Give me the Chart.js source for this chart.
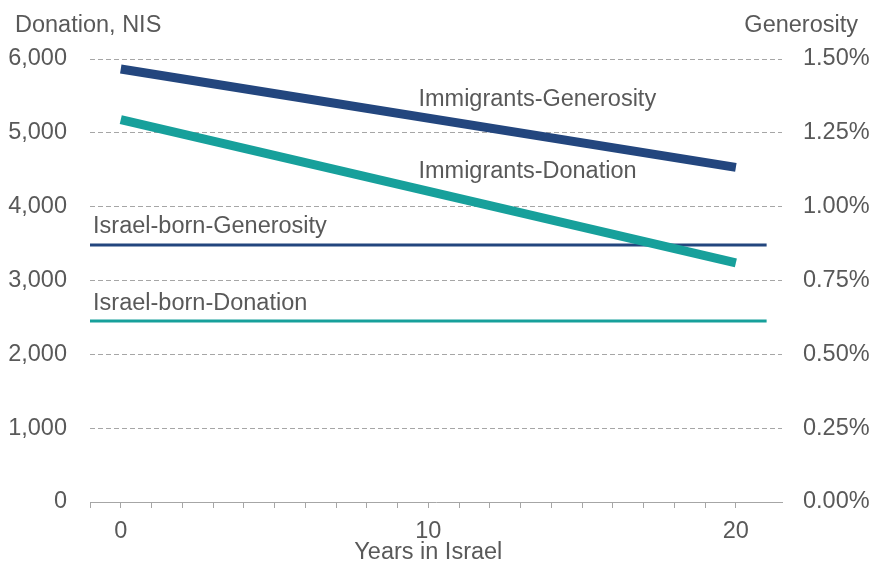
<!DOCTYPE html>
<html>
<head>
<meta charset="utf-8">
<title>Donation and generosity by years in Israel</title>
<script src="https://cdn.jsdelivr.net/npm/chart.js@4.4.1/dist/chart.umd.min.js"></script>
<style>
    body { margin: 0; background: #ffffff; }
    #chart-wrap { width: 872px; height: 561px; }
</style>
</head>
<body>
<div id="chart-wrap">
    <canvas id="line-chart-years" width="872" height="561"></canvas>
</div>
<script>

// years since arrival (immigrants) and the full span for the Israel-born reference lines
var immigrantYears = [0, 20];
var israelBornYears = [-1, 21];

// donation in NIS (left axis)
var immigrantDonation = [5180, 3240];
var israelBornDonation = [2450, 2450];

// generosity in percent (right axis)
var immigrantGenerosity = [1.466, 1.133];
var israelBornGenerosity = [0.87, 0.87];

var seriesNames = ['Immigrants-Generosity', 'Immigrants-Donation', 'Israel-born-Generosity', 'Israel-born-Donation'];

var donationTicks = [0, 1000, 2000, 3000, 4000, 5000, 6000];
var generosityTicks = [0, 0.25, 0.5, 0.75, 1, 1.25, 1.5];
var yearLabels = [0, 10, 20];

var navy = '#23467e';
var teal = '#17a09b';
var textGrey = '#595959';
var lineGrey = '#a6a6a6';
var fontFamily = "'Liberation Sans', Arial, sans-serif";
var fontSize = 23.5;

document.addEventListener('DOMContentLoaded', function () {
    LineChartYears();
});

function toPoints(xs, ys) {
    var pts = [];
    for (var i = 0; i < xs.length; i++) {
        pts.push({ x: xs[i], y: ys[i] });
    }
    return pts;
}

// series names written next to the lines, anchored in data units (x = years, y = NIS)
var seriesLabelPlugin = {
    id: 'seriesLabels',
    afterDatasetsDraw: function (chart, args, opts) {
        var ctx = chart.ctx;
        var xs = chart.scales.x;
        var ys = chart.scales.y;
        ctx.save();
        ctx.font = fontSize + 'px ' + fontFamily;
        ctx.fillStyle = textGrey;
        ctx.textBaseline = 'alphabetic';
        ctx.textAlign = 'left';
        for (var i = 0; i < opts.items.length; i++) {
            var it = opts.items[i];
            ctx.fillText(it.text, xs.getPixelForValue(it.x), ys.getPixelForValue(it.y));
        }

        // axis titles
        ctx.fillText('Donation, NIS', 15, 32);
        ctx.textAlign = 'right';
        ctx.fillText('Generosity', 858, 32);
        ctx.textAlign = 'center';
        ctx.fillText('Years in Israel', xs.getPixelForValue(10), 559);
        ctx.restore();
    }
};

var lineChartYears = null;
function LineChartYears() {

    if (lineChartYears != null) {
        lineChartYears.destroy();
    }

    var data = {
        datasets: [
            {
                label: seriesNames[0],
                data: toPoints(immigrantYears, immigrantGenerosity),
                yAxisID: 'y2',
                borderColor: navy,
                borderWidth: 9
            },
            {
                label: seriesNames[1],
                data: toPoints(immigrantYears, immigrantDonation),
                yAxisID: 'y',
                borderColor: teal,
                borderWidth: 9
            },
            {
                label: seriesNames[2],
                data: toPoints(israelBornYears, israelBornGenerosity),
                yAxisID: 'y2',
                borderColor: navy,
                borderWidth: 3
            },
            {
                label: seriesNames[3],
                data: toPoints(israelBornYears, israelBornDonation),
                yAxisID: 'y',
                borderColor: teal,
                borderWidth: 3
            }
        ]
    };

    var tickFont = { family: fontFamily, size: fontSize };

    var options = {
        responsive: false,
        animation: false,
        maintainAspectRatio: false,
        layout: { padding: { top: 59, bottom: 0, left: 0, right: 0 } },
        elements: {
            point: { radius: 0 },
            line: { borderCapStyle: 'butt', tension: 0 }
        },
        plugins: {
            legend: { display: false },
            tooltip: { enabled: false },
            seriesLabels: {
                items: [
                    { text: seriesNames[0], x: 9.68, y: 5370 },
                    { text: seriesNames[1], x: 9.68, y: 4390 },
                    { text: seriesNames[2], x: -0.9, y: 3640 },
                    { text: seriesNames[3], x: -0.9, y: 2600 }
                ]
            }
        },
        scales: {
            x: {
                type: 'linear',
                min: -1,
                max: 21.5,
                afterBuildTicks: function (scale) {
                    scale.ticks = scale.ticks.filter(function (t) { return Number.isInteger(t.value); });
                },
                afterFit: function (scale) { scale.height = 59; },
                ticks: {
                    stepSize: 1,
                    autoSkip: false,
                    maxRotation: 0,
                    padding: 9,
                    color: textGrey,
                    font: tickFont,
                    callback: function (v) {
                        return yearLabels.indexOf(v) >= 0 ? String(v) : '';
                    }
                },
                grid: {
                    drawOnChartArea: false,
                    drawTicks: true,
                    tickLength: 6,
                    color: lineGrey
                },
                border: { display: true, color: lineGrey, width: 1 }
            },
            y: {
                position: 'left',
                min: donationTicks[0],
                max: donationTicks[donationTicks.length - 1],
                afterFit: function (scale) { scale.width = 90; },
                ticks: {
                    stepSize: 1000,
                    padding: 23,
                    color: textGrey,
                    font: tickFont,
                    callback: function (v) { return v.toLocaleString('en-US'); }
                },
                grid: {
                    drawTicks: false,
                    tickLength: 0,
                    lineWidth: 1,
                    color: function (c) { return c.tick && c.tick.value === 0 ? 'rgba(0,0,0,0)' : lineGrey; }
                },
                border: { display: false, dash: [5, 3] }
            },
            y2: {
                position: 'right',
                min: generosityTicks[0],
                max: generosityTicks[generosityTicks.length - 1],
                afterFit: function (scale) { scale.width = 90; },
                ticks: {
                    stepSize: 0.25,
                    padding: 21,
                    color: textGrey,
                    font: tickFont,
                    callback: function (v) { return v.toFixed(2) + '%'; }
                },
                grid: { drawOnChartArea: false, drawTicks: false, tickLength: 0 },
                border: { display: false }
            }
        }
    };

    var ctx = document.getElementById('line-chart-years').getContext('2d');
    lineChartYears = new Chart(ctx, {
        type: 'line',
        data: data,
        options: options,
        plugins: [seriesLabelPlugin]
    });
}

</script>
</body>
</html>
